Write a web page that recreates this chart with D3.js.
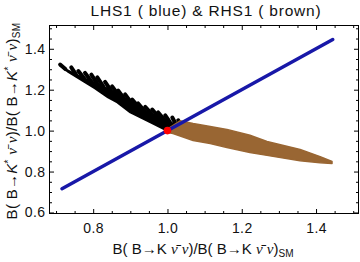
<!DOCTYPE html>
<html>
<head>
<meta charset="utf-8">
<script src="https://cdn.jsdelivr.net/npm/d3@7"></script>
<style>
  body { margin: 0; background: #fff; }
  text { font-family: "Liberation Sans", Arial, sans-serif; }
</style>
</head>
<body>
<script>
var width = 360;
var height = 262;

// LHS1 (blue) : straight line
var blueX = [0.716, 1.445];
var blueY = [0.716, 1.445];

// RHS1 black band, lower edge
var blackLowX = [0.711, 0.733, 0.770, 0.805, 0.840, 0.865, 0.900, 0.953, 0.988, 0.999];
var blackLowY = [1.318, 1.287, 1.245, 1.206, 1.162, 1.138, 1.089, 1.042, 1.010, 1.000];

// black strands : tip (top left) and base (inside the band)
var blackTipX  = [0.711, 0.741, 0.760, 0.778, 0.795, 0.811, 0.832, 0.851, 0.867, 0.886, 0.905, 0.921, 0.940, 0.959, 0.975, 0.994, 1.013, 1.029];
var blackTipY  = [1.323, 1.309, 1.291, 1.282, 1.274, 1.260, 1.238, 1.216, 1.196, 1.177, 1.152, 1.133, 1.116, 1.103, 1.089, 1.074, 1.064, 1.050];
var blackBaseX = [0.725, 0.754, 0.776, 0.795, 0.811, 0.827, 0.848, 0.867, 0.883, 0.902, 0.921, 0.937, 0.956, 0.975, 0.991, 1.007, 1.023, 1.037];
var blackBaseY = [1.301, 1.274, 1.255, 1.240, 1.230, 1.216, 1.196, 1.177, 1.157, 1.138, 1.118, 1.098, 1.084, 1.069, 1.054, 1.040, 1.030, 1.020];

// RHS1 brown band
var brownTopX = [1.002, 1.034, 1.069, 1.115, 1.160, 1.222, 1.268, 1.357, 1.411, 1.443];
var brownTopY = [1.010, 1.048, 1.035, 1.020, 1.006, 0.977, 0.947, 0.908, 0.873, 0.849];
var brownLowX = [1.000, 1.015, 1.069, 1.115, 1.160, 1.222, 1.268, 1.357, 1.411, 1.443];
var brownLowY = [0.991, 0.986, 0.952, 0.937, 0.917, 0.893, 0.879, 0.853, 0.843, 0.839];

// SM point
var smX = [1.0];
var smY = [1.0];

// ticks
var xMajor = [0.8, 1.0, 1.2, 1.4];
var xMinor = [0.7, 0.75, 0.85, 0.9, 0.95, 1.05, 1.1, 1.15, 1.25, 1.3, 1.35, 1.45, 1.5];
var yMajor = [0.6, 0.8, 1.0, 1.2, 1.4];
var yMinor = [0.65, 0.7, 0.75, 0.85, 0.9, 0.95, 1.05, 1.1, 1.15, 1.25, 1.3, 1.35, 1.45, 1.5];

var plotLeft = 49.5, plotRight = 358.5, plotTop = 25.5, plotBottom = 213.5;

var xScale = d3.scaleLinear().domain([0.6824, 1.5143]).range([plotLeft, plotRight]);
var yScale = d3.scaleLinear().domain([0.595, 1.5137]).range([plotBottom, plotTop]);

function zip (xs, ys) {
  return xs.map(function(v, i) { return [v, ys[i]]; });
}

var line = d3.line()
  .x(function(d) { return xScale(d[0]); })
  .y(function(d) { return yScale(d[1]); });

function main () {
  var svg = d3.select("body")
    .append("svg")
    .attr("width", width)
    .attr("height", height);

  drawAxes(svg);
  drawData(svg);
  drawLabels(svg);
}

function drawData (svg) {
  var plot = svg.append("g");

  // black band body
  var blackPoly = zip(blackLowX, blackLowY).concat(zip(blackBaseX, blackBaseY).reverse());
  plot.append("path")
    .attr("d", line(blackPoly) + "Z")
    .attr("fill", "#000")
    .attr("stroke", "#000")
    .attr("stroke-width", 2)
    .attr("stroke-linejoin", "round");

  // black strands
  plot.selectAll(".strand")
    .data(blackTipX)
    .enter()
    .append("line")
    .attr("class", "strand")
    .attr("x1", function(d) { return xScale(d); })
    .attr("y1", function(d, i) { return yScale(blackTipY[i]); })
    .attr("x2", function(d, i) { return xScale(blackBaseX[i]); })
    .attr("y2", function(d, i) { return yScale(blackBaseY[i]); })
    .attr("stroke", "#000")
    .attr("stroke-width", 4)
    .attr("stroke-linecap", "round");

  // brown band
  var brownPoly = zip(brownTopX, brownTopY).concat(zip(brownLowX, brownLowY).reverse());
  plot.append("path")
    .attr("d", line(brownPoly) + "Z")
    .attr("fill", "#996633")
    .attr("stroke", "#996633")
    .attr("stroke-width", 1.5)
    .attr("stroke-linejoin", "round");

  // blue line
  plot.append("path")
    .attr("d", line(zip(blueX, blueY)))
    .attr("fill", "none")
    .attr("stroke", "#1818a8")
    .attr("stroke-width", 3.5)
    .attr("stroke-linecap", "round");

  // SM point
  plot.selectAll(".sm")
    .data(smX)
    .enter()
    .append("circle")
    .attr("class", "sm")
    .attr("cx", function(d) { return xScale(d); })
    .attr("cy", function(d, i) { return yScale(smY[i]); })
    .attr("r", 3.8)
    .attr("fill", "#ff0000");
}

function drawAxes (svg) {
  var fmt = d3.format(".1f");

  // bottom
  svg.append("g").attr("transform", "translate(0," + plotBottom + ")")
    .call(d3.axisBottom(xScale).tickValues(xMinor).tickSize(-2.5).tickFormat(""));
  svg.append("g").attr("class", "lab").attr("transform", "translate(0," + plotBottom + ")")
    .call(d3.axisBottom(xScale).tickValues(xMajor).tickSize(-4.5).tickPadding(10).tickFormat(fmt));
  // top
  svg.append("g").attr("transform", "translate(0," + plotTop + ")")
    .call(d3.axisTop(xScale).tickValues(xMinor).tickSize(-2.5).tickFormat(""));
  svg.append("g").attr("transform", "translate(0," + plotTop + ")")
    .call(d3.axisTop(xScale).tickValues(xMajor).tickSize(-4.5).tickFormat(""));
  // left
  svg.append("g").attr("transform", "translate(" + plotLeft + ",0)")
    .call(d3.axisLeft(yScale).tickValues(yMinor).tickSize(-2.5).tickFormat(""));
  svg.append("g").attr("class", "lab").attr("transform", "translate(" + plotLeft + ",0)")
    .call(d3.axisLeft(yScale).tickValues(yMajor).tickSize(-4.5).tickPadding(4).tickFormat(fmt));
  // right
  svg.append("g").attr("transform", "translate(" + plotRight + ",0)")
    .call(d3.axisRight(yScale).tickValues(yMinor).tickSize(-2.5).tickFormat(""));
  svg.append("g").attr("transform", "translate(" + plotRight + ",0)")
    .call(d3.axisRight(yScale).tickValues(yMajor).tickSize(-4.5).tickFormat(""));

  svg.selectAll(".domain").remove();
  svg.selectAll(".tick line").attr("stroke", "#000");
  svg.selectAll(".lab text")
    .attr("font-family", "'Liberation Sans', Arial, sans-serif")
    .attr("font-size", "14px")
    .attr("letter-spacing", "0.4px")
    .attr("fill", "#111");

  // frame
  svg.append("rect")
    .attr("x", plotLeft)
    .attr("y", plotTop)
    .attr("width", plotRight - plotLeft)
    .attr("height", plotBottom - plotTop)
    .attr("fill", "none")
    .attr("stroke", "#000")
    .attr("stroke-width", 1);
}

function addRatio (t, star) {
  // B( B->K nubar nu)/B( B->K nubar nu)_SM
  t.append("tspan").text("B( B\u2192");
  for (var k = 0; k < 2; k++) {
    if (k == 1) t.append("tspan").text(" B\u2192");
    if (star) {
      t.append("tspan").attr("font-style", "italic").text("K");
      t.append("tspan").attr("font-size", "10px").attr("dy", -5).text("*");
      t.append("tspan").attr("dy", 5).text(" ");
    } else {
      t.append("tspan").text("K ");
    }
    t.append("tspan").attr("font-family", "'Liberation Serif', serif").attr("font-style", "italic").text("\u03BD\u0304");
    t.append("tspan").text(" ");
    t.append("tspan").attr("font-family", "'Liberation Serif', serif").attr("font-style", "italic").text("\u03BD");
    t.append("tspan").text(k == 0 ? ")/B(" : ")");
  }
  t.append("tspan").attr("font-size", "10px").attr("dy", 3).text("SM");
}

function drawLabels (svg) {
  svg.append("text")
    .attr("x", 206)
    .attr("y", 16)
    .attr("text-anchor", "middle")
    .attr("font-size", "15.5px")
    .attr("letter-spacing", "0.8px")
    .attr("fill", "#111")
    .text("LHS1 ( blue) & RHS1 ( brown)");

  var xl = svg.append("text")
    .attr("x", 203)
    .attr("y", 254)
    .attr("text-anchor", "middle")
    .attr("font-size", "15px")
    .attr("fill", "#111");
  addRatio(xl, false);

  var yl = svg.append("text")
    .attr("transform", "translate(17,121) rotate(-90)")
    .attr("text-anchor", "middle")
    .attr("font-size", "15px")
    .attr("letter-spacing", "0.3px")
    .attr("fill", "#111");
  addRatio(yl, true);
}

main()
</script>
</body>
</html>
